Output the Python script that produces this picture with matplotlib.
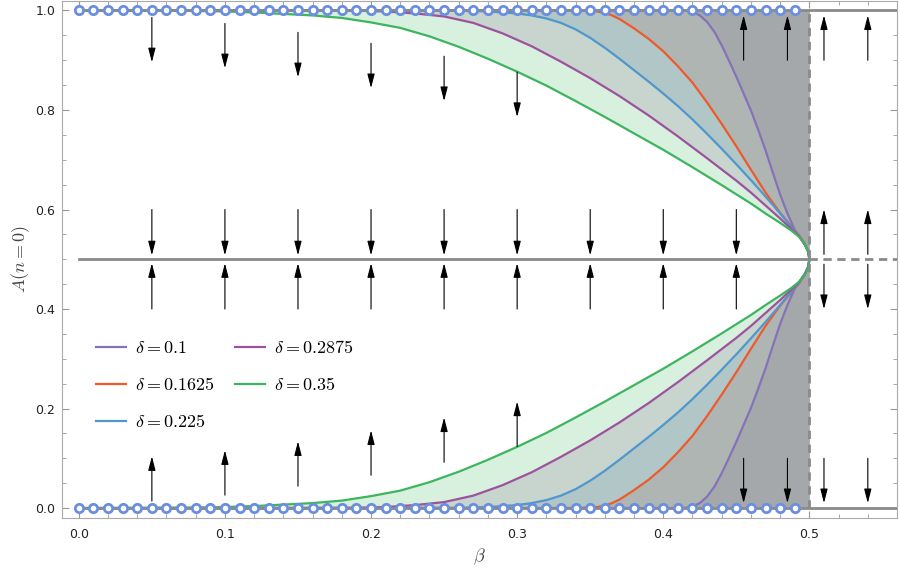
import matplotlib
matplotlib.use("Agg")
import matplotlib.pyplot as plt
import numpy as np
from matplotlib.ticker import MultipleLocator

plt.rcParams["mathtext.fontset"] = "cm"

# upper branches A(n=0) vs beta (lower branch is the mirror 1 - A)
beta_010 = [0, 0.41, 0.415, 0.42, 0.425, 0.43, 0.435, 0.44, 0.445, 0.45, 0.455, 0.46, 0.465,
            0.47, 0.475, 0.48, 0.485, 0.49, 0.494, 0.497, 0.4993, 0.5]
A_010 = [1, 1, 0.9995, 0.997, 0.99, 0.977, 0.957, 0.93, 0.899, 0.867, 0.833, 0.799, 0.76,
         0.719, 0.674, 0.63, 0.592, 0.559, 0.542, 0.529, 0.515, 0.5]

beta_01625 = [0, 0.33, 0.345, 0.355, 0.36, 0.365, 0.37, 0.38, 0.39, 0.40, 0.41, 0.42, 0.43,
              0.44, 0.45, 0.46, 0.47, 0.48, 0.488, 0.493, 0.497, 0.4993, 0.5]
A_01625 = [1, 1, 0.9995, 0.998, 0.995, 0.99, 0.983, 0.964, 0.943, 0.918, 0.888, 0.855, 0.815,
           0.772, 0.727, 0.68, 0.634, 0.593, 0.565, 0.548, 0.53, 0.515, 0.5]

beta_0225 = [0, 0.26, 0.28, 0.30, 0.31, 0.32, 0.33, 0.34, 0.35, 0.36, 0.37, 0.38, 0.39, 0.40,
             0.41, 0.42, 0.43, 0.44, 0.45, 0.46, 0.47, 0.48, 0.488, 0.493, 0.497, 0.4993, 0.5]
A_0225 = [1, 0.9995, 0.998, 0.994, 0.99, 0.984, 0.975, 0.962, 0.945, 0.925, 0.903, 0.880, 0.857,
          0.833, 0.808, 0.781, 0.752, 0.722, 0.691, 0.659, 0.626, 0.592, 0.564, 0.547, 0.529, 0.515, 0.5]

beta_02875 = [0, 0.15, 0.19, 0.21, 0.23, 0.25, 0.27, 0.29, 0.31, 0.33, 0.35, 0.37, 0.39, 0.41,
              0.43, 0.45, 0.46, 0.47, 0.48, 0.488, 0.493, 0.497, 0.4993, 0.5]
A_02875 = [1, 1, 0.9995, 0.998, 0.994, 0.988, 0.975, 0.954, 0.928, 0.897, 0.864, 0.828, 0.789,
           0.747, 0.703, 0.658, 0.634, 0.608, 0.582, 0.56, 0.546, 0.529, 0.515, 0.5]

beta_035 = [0, 0.05, 0.08, 0.1, 0.12, 0.14, 0.16, 0.18, 0.2, 0.22, 0.24, 0.26, 0.28, 0.3, 0.32,
            0.34, 0.36, 0.38, 0.4, 0.42, 0.44, 0.46, 0.47, 0.48, 0.488, 0.493, 0.497, 0.4993, 0.5]
A_035 = [1, 0.9995, 0.999, 0.998, 0.996, 0.993, 0.990, 0.985, 0.976, 0.965, 0.948, 0.927, 0.903,
         0.877, 0.849, 0.818, 0.786, 0.753, 0.720, 0.685, 0.649, 0.612, 0.592, 0.573, 0.557,
         0.545, 0.53, 0.515, 0.5]

deltas = ["0.1", "0.1625", "0.225", "0.2875", "0.35"]
colors = ["#8572b8", "#ee5a2b", "#4f97cc", "#9d529d", "#3cb55e"]
curves = [(beta_010, A_010), (beta_01625, A_01625), (beta_0225, A_0225),
          (beta_02875, A_02875), (beta_035, A_035)]

# fixed points sampled at A=0 and A=1
beta_pts = np.arange(0, 0.495, 0.01)

# arrows: (beta, tail) pairs
top_beta = [0.05, 0.1, 0.15, 0.2, 0.25, 0.3]
top_tail = [0.986, 0.974, 0.956, 0.934, 0.908, 0.876]
mid_beta = [0.05, 0.1, 0.15, 0.2, 0.25, 0.3, 0.35, 0.4, 0.45]
right_beta = [0.455, 0.485, 0.51, 0.54]
far_beta = [0.51, 0.54]

fig = plt.figure(figsize=(9, 5.75), dpi=100)
ax = fig.add_axes([0.0689, 0.0991, 0.9278, 0.9])

for (b, a), c in zip(curves, colors):
    b = np.array(b)
    a = np.array(a)
    ax.fill_between(b, a, 1, color=c, alpha=0.2, lw=0)
    ax.fill_between(b, 1 - a, 0, color=c, alpha=0.2, lw=0)

handles = []
for (b, a), c, d in zip(curves, colors, deltas):
    b = np.array(b)
    a = np.array(a)
    h, = ax.plot(b, a, color=c, lw=1.6, label=r"$\delta = %s$" % d, zorder=3)
    ax.plot(b, 1 - a, color=c, lw=1.6, zorder=3)
    handles.append(h)

grey = "#8a8a8a"
ax.plot([0, 0.56], [1, 1], color=grey, lw=2, zorder=4)
ax.plot([0, 0.56], [0, 0], color=grey, lw=2, zorder=4)
ax.plot([0, 0.5], [0.5, 0.5], color=grey, lw=2, zorder=4)
ax.plot([0.5, 0.56], [0.5, 0.5], color=grey, lw=2, ls=(0, (3, 2)), zorder=4)
ax.plot([0.5, 0.5], [0, 1], color=grey, lw=2, ls=(0, (3, 2)), zorder=4)

for yv in [0, 1]:
    ax.plot(beta_pts, np.full_like(beta_pts, yv), ls="none", marker="o", ms=6,
            mfc="white", mec="#6a8ee0", mew=2, zorder=5)

def arrow(x, y0, y1):
    ax.annotate("", xy=(x, y1), xytext=(x, y0),
                arrowprops=dict(arrowstyle="-|>,head_length=0.85,head_width=0.22",
                                color="black", lw=0.8, mutation_scale=10,
                                shrinkA=0, shrinkB=0), zorder=6)

for x, t in zip(top_beta, top_tail):
    arrow(x, t, t - 0.09)
    arrow(x, 1 - t, 1 - t + 0.09)
for x in mid_beta:
    arrow(x, 0.6, 0.508)
    arrow(x, 0.4, 0.492)
for x in right_beta:
    arrow(x, 0.9, 0.99)
    arrow(x, 0.1, 0.01)
for x in far_beta:
    arrow(x, 0.51, 0.6)
    arrow(x, 0.49, 0.4)

ax.set_xlim(-0.0115, 0.56)
ax.set_ylim(-0.02, 1.02)
ax.xaxis.set_major_locator(MultipleLocator(0.1))
ax.xaxis.set_minor_locator(MultipleLocator(0.02))
ax.yaxis.set_major_locator(MultipleLocator(0.2))
ax.yaxis.set_minor_locator(MultipleLocator(0.05))
ax.tick_params(which="both", direction="in", top=True, right=True, color="#999999",
               labelsize=9, labelcolor="#222222")
ax.tick_params(which="major", length=5)
ax.tick_params(which="minor", length=3)
ax.tick_params(axis="x", pad=7)
ax.tick_params(axis="y", pad=5)
for s in ax.spines.values():
    s.set_color("#aaaaaa")

ax.set_xlabel(r"$\beta$", fontsize=13, color="#444444", labelpad=4)
ax.set_ylabel(r"$A(n = 0)$", fontsize=13, color="#444444", labelpad=2)

ax.legend(handles=handles, ncol=2, loc="upper left", bbox_to_anchor=(0.041, 0.345),
          frameon=False, fontsize=13, handlelength=1.67, handletextpad=0.5,
          columnspacing=1.1, labelspacing=1.05, borderpad=0, borderaxespad=0)

fig.savefig("out.png", dpi=100)
